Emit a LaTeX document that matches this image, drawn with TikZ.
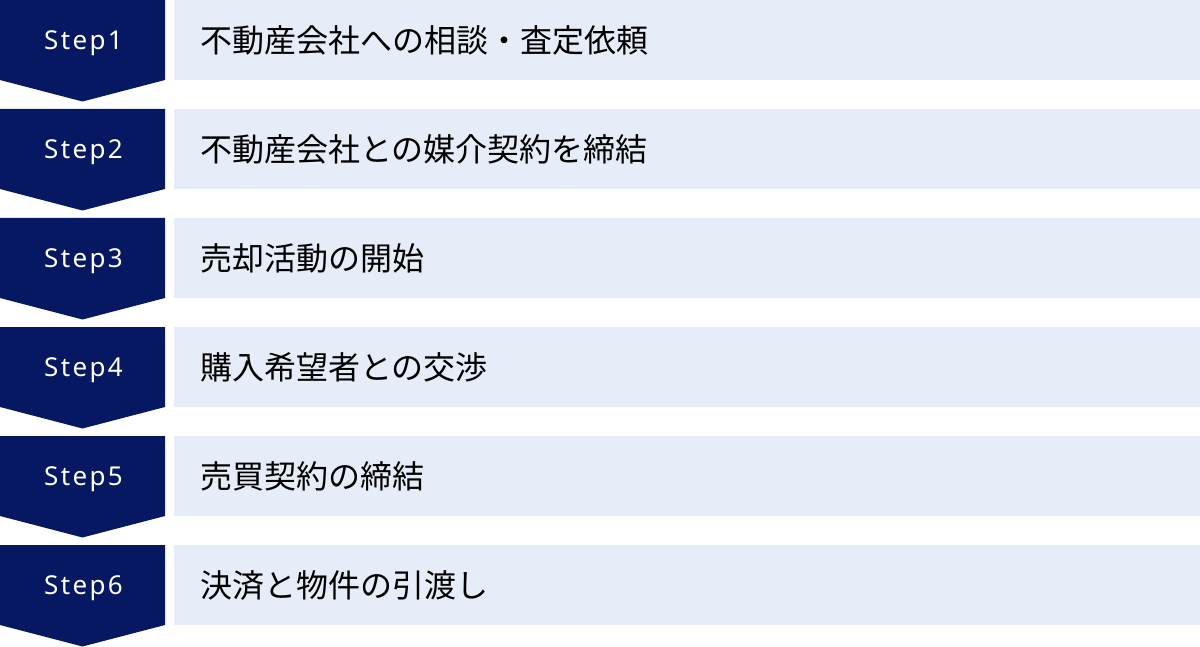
\documentclass[tikz,border=0pt]{standalone}
\usepackage{fontspec}
\setmainfont{Noto Sans CJK JP}
\newfontfamily\stepfont[LetterSpace=9]{Noto Sans}
\definecolor{navy}{RGB}{5,24,97}
\definecolor{pale}{RGB}{230,236,248}
\tikzset{
  stepshape/.style={fill=navy, draw=none},
  stepbox/.style={fill=pale, draw=none, anchor=north west, minimum width=1026pt, minimum height=80pt, inner sep=0pt},
  steplabel/.style={text=white, font=\stepfont\fontsize{26}{30}\selectfont, anchor=base, inner sep=0pt},
  steptext/.style={text=black, font=\fontsize{32}{36}\selectfont, anchor=west, inner sep=0pt},
}
\begin{document}
\begin{tikzpicture}[x=1pt,y=-1pt]
\useasboundingbox (0,0) rectangle (1200,647);
\foreach \i/\t in {1/不動産会社への相談・査定依頼,2/不動産会社との媒介契約を締結,3/売却活動の開始,4/購入希望者との交渉,5/売買契約の締結,6/決済と物件の引渡し}{
  \pgfmathsetmacro{\yy}{(\i-1)*109}
  \fill[stepshape] (0,\yy) -- (165,\yy) -- (165,\yy+80) -- (82.5,\yy+101.5) -- (0,\yy+80) -- cycle;
  \node[stepbox] (box\i) at (174,\yy) {};
  \node[steplabel] (lab\i) at (83.5,\yy+49.5) {Step\i};
  \node[steptext] (txt\i) at (200,\yy+40) {\t};
}
\end{tikzpicture}
\end{document}
